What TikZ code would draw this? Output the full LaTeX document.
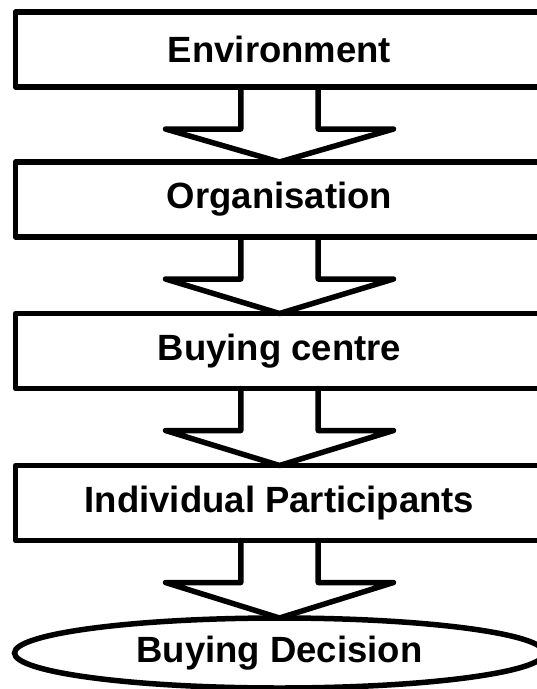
\documentclass[tikz,border=0pt]{standalone}
\usepackage{fontspec}
\setmainfont{Liberation Sans}
\usetikzlibrary{calc,shapes.geometric}
\newcommand\blkarrow[2]{%
  \draw[conn] ($(#1.south)+(-38.7,0)$) -- ($(#1.south)+(-38.7,42)$)
    -- ($(#1.south)+(-114,42)$) -- (#2.north)
    -- ($(#1.south)+(114,42)$) -- ($(#1.south)+(38.7,42)$)
    -- ($(#1.south)+(38.7,0)$);}
\begin{document}
\begin{tikzpicture}[x=1pt,y=-1pt,
  lbl/.style={font=\fontsize{36.5}{40}\selectfont\bfseries, text=black},
  box/.style={lbl, draw, rectangle, line width=5.5pt, line join=round,
    minimum width=528pt, minimum height=75pt, inner sep=0pt, outer sep=0pt},
  oval/.style={lbl, draw, ellipse, line width=5.5pt,
    minimum width=530pt, minimum height=70pt, inner sep=0pt, outer sep=0pt},
  conn/.style={line width=5.5pt, line join=round, line cap=round}]
\useasboundingbox (0,0) rectangle (537,689);
\clip (0,0) rectangle (537,689);
\fill[white] (0,0) rectangle (537,689);
\node[box] (env) at (279.5,49.5) {Environment};
\node[box] (org) at (279.5,199.5) {Organisation};
\node[box] (bc) at (279.5,351) {Buying centre};
\node[box] (ind) at (279.5,503) {Individual Participants};
\node[oval] (dec) at (279.5,653) {Buying Decision};
\blkarrow{env}{org}
\blkarrow{org}{bc}
\blkarrow{bc}{ind}
\blkarrow{ind}{dec}
\end{tikzpicture}
\end{document}
